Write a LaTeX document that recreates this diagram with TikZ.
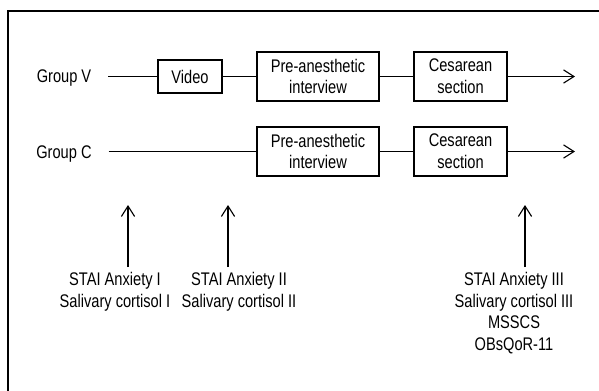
\documentclass[tikz,border=0pt]{standalone}
\usepackage{fontspec}
\setmainfont{Liberation Sans}[FakeStretch=0.8]
\usetikzlibrary{arrows.meta}

\begin{document}
\begin{tikzpicture}[x=0.025cm, y=-0.025cm, every node/.style={font=\fontsize{13}{15.5}\selectfont}, >={Straight Barb[length=2.6mm,width=3.3mm]},
	stage/.style={draw, line width=0.8pt, inner sep=0pt, align=center, minimum height=1.225cm},
	flow/.style={line width=0.8pt}]
	\useasboundingbox (0,0) rectangle (599,390);
	\draw[flow] (8,400) -- (8,11) -- (610,11);
	% group V
	\node (gv) at (64,78) {Group V};
	\node[stage, minimum width=1.6cm, minimum height=0.825cm] (video) at (190,76.5) {Video};
	\node[stage, minimum width=3.05cm] (preV) at (318,76.5) {Pre-anesthetic\\interview};
	\node[stage, minimum width=2.325cm] (cesV) at (460.5,76.5) {Cesarean\\section};
	\coordinate (endV) at (575,76.5);
	\draw[flow, shorten <=3mm] (gv.east |- video) -- (video.west);
	\draw[flow] (video) -- (preV) (preV) -- (cesV);
	\draw[flow, ->] (cesV) -- (endV);
	% group C
	\node (gc) at (64,154) {Group C};
	\node[stage, minimum width=3.05cm] (preC) at (318,151.5) {Pre-anesthetic\\interview};
	\node[stage, minimum width=2.325cm] (cesC) at (460.5,151.5) {Cesarean\\section};
	\coordinate (endC) at (575,151.5);
	\draw[flow, shorten <=3mm] (gc.east |- preC) -- (preC.west);
	\draw[flow] (preC) -- (cesC);
	\draw[flow, ->] (cesC) -- (endC);
	% measurements
	\node[anchor=north, align=center] (s1) at (115,267) {STAI Anxiety I\\Salivary cortisol I};
	\node[anchor=north, align=center] (s2) at (239,267) {STAI Anxiety II\\Salivary cortisol II};
	\node[anchor=north, align=center] (s3) at (514,267) {STAI Anxiety III\\Salivary cortisol III\\MSSCS\\OBsQoR-11};
	\coordinate (t1) at (128,205);
	\coordinate (t2) at (228,205);
	\coordinate (t3) at (525,205);
	\foreach \i in {1,2,3}
		\draw[flow, ->] (t\i |- s\i.north) -- (t\i);
\end{tikzpicture}
\end{document}
